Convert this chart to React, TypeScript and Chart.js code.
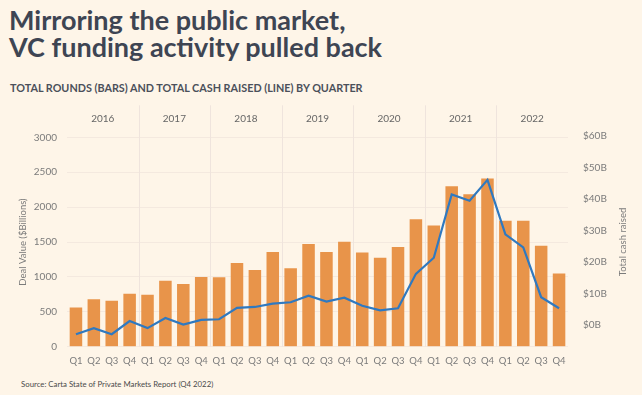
import React, { useEffect, useRef } from "react";
import { Chart, registerables } from "chart.js";

Chart.register(...registerables);

const years = ["2016", "2017", "2018", "2019", "2020", "2021", "2022"];
const quarters = ["Q1", "Q2", "Q3", "Q4"];
const categories = years.flatMap((y) => quarters.map((q) => `${q} ${y}`));

// Total rounds (bars), left axis
const totalRounds = [
  560, 680, 660, 760,
  745, 945, 900, 1000,
  995, 1200, 1100, 1355,
  1125, 1470, 1355, 1505,
  1350, 1275, 1430, 1825,
  1735, 2300, 2185, 2410,
  1805, 1805, 1445, 1050,
];

// Total cash raised ($B, line), right axis — as drawn against the right-hand labels
const cashRaised = [
  -2.85, -0.9, -2.85, 1.35,
  -0.9, 2.3, 0.2, 1.7,
  1.9, 5.5, 5.8, 6.85,
  7.3, 9.4, 7.5, 8.75,
  6.2, 4.75, 5.4, 16.3,
  21.4, 41.5, 39.5, 46.1,
  28.8, 24.7, 8.9, 5.4,
];

const leftTicks = [0, 500, 1000, 1500, 2000, 2500, 3000];
const rightTicks = [0, 10, 20, 30, 40, 50, 60];

const BG = "#fef5e8";
const GRID = "#f4e9df";
const SEP = "#efe4dd";
const BAR = "#e8944a";
const LINE = "#2f79c0";
const TICK = "#7b7b7b";
const FONT = "Lato, 'Noto Sans', sans-serif";
const RIGHT_TITLE = "Total cash raised";

const yearPlugin = {
  id: "yearBands",
  beforeDatasetsDraw(chart: any) {
    const { ctx, chartArea, scales } = chart;
    const x = scales.x;
    ctx.save();
    ctx.strokeStyle = SEP;
    ctx.lineWidth = 1;
    for (let i = 1; i < years.length; i++) {
      const idx = i * 4;
      const px = Math.round((x.getPixelForValue(idx - 1) + x.getPixelForValue(idx)) / 2) + 0.5;
      ctx.beginPath();
      ctx.moveTo(px, chartArea.top - 32);
      ctx.lineTo(px, chartArea.bottom);
      ctx.stroke();
    }
    ctx.fillStyle = "#666";
    ctx.font = `10px ${FONT}`;
    ctx.textAlign = "center";
    ctx.textBaseline = "middle";
    years.forEach((y, i) => {
      const c = (x.getPixelForValue(i * 4) + x.getPixelForValue(i * 4 + 3)) / 2;
      ctx.fillText(y, c, chartArea.top - 19);
    });
    ctx.restore();
  },
  afterDraw(chart: any) {
    const { ctx, chartArea } = chart;
    const y1 = chart.scales.y1;
    ctx.save();
    ctx.fillStyle = TICK;
    ctx.font = `9.5px ${FONT}`;
    ctx.textAlign = "center";
    ctx.textBaseline = "middle";
    ctx.translate(y1.right - 19, (chartArea.top + chartArea.bottom) / 2);
    ctx.rotate(-Math.PI / 2);
    ctx.fillText(RIGHT_TITLE, 0, 0);
    ctx.restore();
  },
};

export default function App() {
  const ref = useRef<HTMLCanvasElement>(null);

  useEffect(() => {
    const prevMargin = document.body.style.margin;
    document.body.style.margin = "0";
    document.body.style.background = BG;
    const chart = new Chart(ref.current!, {
      type: "bar",
      data: {
        labels: categories,
        datasets: [
          {
            type: "line",
            label: "Total cash raised",
            data: cashRaised,
            yAxisID: "y1",
            borderColor: LINE,
            borderWidth: 2.2,
            pointRadius: 0,
            tension: 0,
            order: 0,
          } as any,
          {
            type: "bar",
            label: "Total rounds",
            data: totalRounds,
            yAxisID: "y",
            backgroundColor: BAR,
            barPercentage: 0.7,
            categoryPercentage: 1,
            order: 1,
          },
        ],
      },
      options: {
        responsive: false,
        animation: false,
        layout: { padding: { top: 37.3, bottom: 3.3, left: 7, right: 0 } },
        plugins: { legend: { display: false }, tooltip: { enabled: false } },
        scales: {
          x: {
            grid: { display: false },
            border: { display: false },
            ticks: {
              color: TICK,
              font: { family: FONT, size: 9.5 },
              padding: 1,
              maxRotation: 0,
              autoSkip: false,
              callback: (_v: any, i: number) => categories[i].split(" ")[0],
            },
            afterFit: (s: any) => {
              s.height = 20;
            },
          },
          y: {
            position: "left",
            min: 0,
            max: 3000,
            afterBuildTicks: (s: any) => {
              s.ticks = leftTicks.map((v) => ({ value: v }));
            },
            grid: { color: GRID, drawTicks: false },
            border: { display: false },
            ticks: {
              color: TICK,
              font: { family: FONT, size: 10 },
              padding: 10,
              callback: (v: any) => String(v),
            },
            title: {
              display: true,
              text: "Deal Value ($Billions)",
              color: TICK,
              font: { family: FONT, size: 9.5 },
              padding: { top: 10, bottom: 0 },
            },
            afterFit: (s: any) => {
              s.width = 60;
            },
          },
          y1: {
            position: "right",
            min: -6.8,
            max: 59.6,
            afterBuildTicks: (s: any) => {
              s.ticks = rightTicks.map((v) => ({ value: v }));
            },
            grid: { display: false, drawTicks: false },
            border: { display: false },
            ticks: {
              color: TICK,
              font: { family: FONT, size: 10 },
              padding: 15,
              callback: (v: any) => `$${v}B`,
            },
            afterFit: (s: any) => {
              s.width = 74;
            },
          },
        },
      },
      plugins: [yearPlugin],
    });
    return () => {
      chart.destroy();
      document.body.style.margin = prevMargin;
    };
  }, []);

  return (
    <div style={{ position: "relative", width: 642, height: 395, background: BG, overflow: "hidden" }}>
      <div
        style={{
          position: "absolute",
          left: 9,
          top: 7,
          fontFamily: FONT,
          fontWeight: 700,
          fontSize: 27,
          lineHeight: "26.6px",
          color: "#3e4553",
          whiteSpace: "nowrap",
        }}
      >
        Mirroring the public market,
        <br />
        VC funding activity pulled back
      </div>
      <div
        style={{
          position: "absolute",
          left: 10,
          top: 81,
          fontFamily: FONT,
          fontWeight: 700,
          fontSize: 10.8,
          color: "#4b505a",
          whiteSpace: "nowrap",
        }}
      >
        TOTAL ROUNDS (BARS) AND TOTAL CASH RAISED (LINE) BY QUARTER
      </div>
      <canvas
        ref={ref}
        width={642}
        height={270}
        style={{ position: "absolute", left: 0, top: 100, width: 642, height: 270 }}
      />
      <div
        style={{
          position: "absolute",
          left: 21,
          top: 379,
          fontFamily: FONT,
          fontSize: 7.8,
          color: "#4a4a4a",
          whiteSpace: "nowrap",
        }}
      >
        Source: Carta State of Private Markets Report (Q4 2022)
      </div>
    </div>
  );
}
